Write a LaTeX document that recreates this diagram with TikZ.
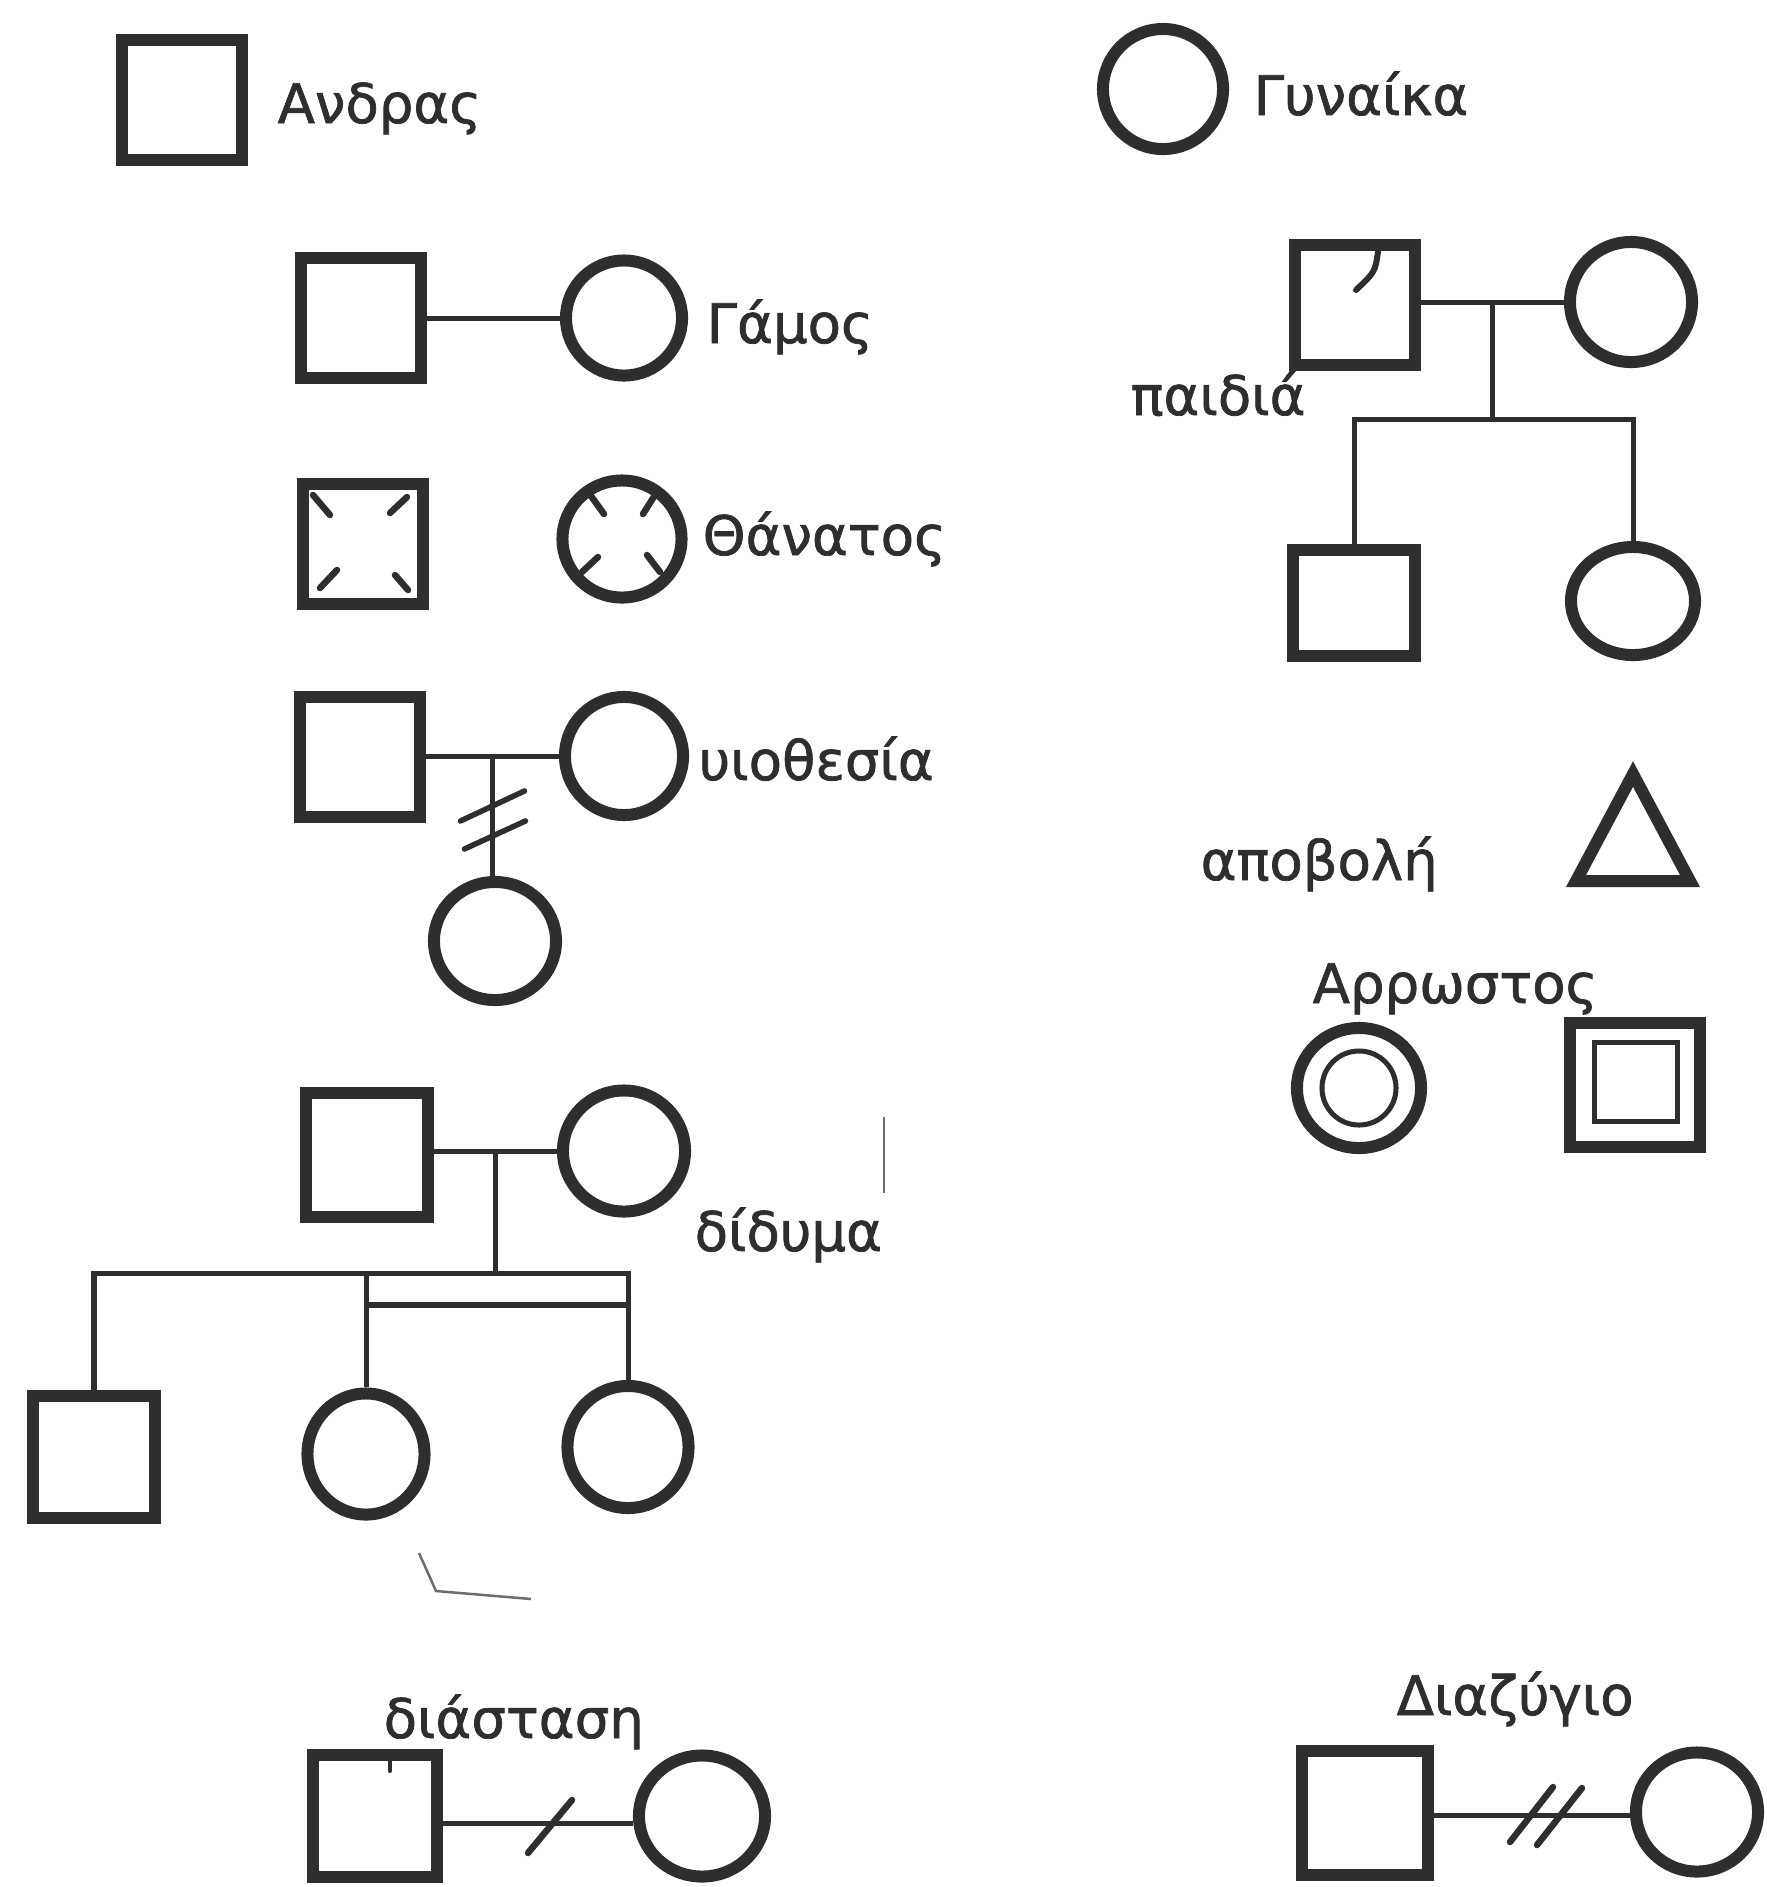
\documentclass[tikz,border=0pt]{standalone}
\usepackage{fontspec}
\setmainfont[FakeBold=1.3]{DejaVu Sans}
\usetikzlibrary{shapes.geometric,calc}
\definecolor{ink}{HTML}{2E2E2E}
\tikzset{
  male/.style={draw=ink, rectangle, line width=0.12cm, minimum width=1.2cm, minimum height=1.2cm, inner sep=0pt},
  female/.style={draw=ink, ellipse, line width=0.12cm, minimum width=1.2cm, minimum height=1.2cm, inner sep=0pt},
  innerring/.style={draw=ink, line width=0.05cm, inner sep=0pt},
  link/.style={draw=ink, line width=0.05cm},
  tick/.style={draw=ink, line width=0.065cm, line cap=round},
  faint/.style={draw=ink!70, line width=0.025cm},
  lbl/.style={anchor=base west, inner sep=0pt, text=ink, font=\fontsize{15.5pt}{18pt}\selectfont}
}
\begin{document}
\begin{tikzpicture}[x=0.01cm,y=-0.01cm]
\useasboundingbox[fill=white] (0,0) rectangle (1767,1887);

% legend: man and woman
\node[male] (man) at (182,100) {};
\node[lbl] (tman) at (277,123) {Ανδρας};
\node[female] (woman) at (1163,89) {};
\node[lbl] (twoman) at (1253,115) {Γυναίκα};

% marriage
\node[male] (m2) at (361,318) {};
\node[female, minimum width=1.16cm, minimum height=1.15cm] (f2) at (624,318) {};
\draw[link] (m2.east) -- (f2.west);
\node[lbl] (tmar) at (706,343) {Γάμος};

% death
\node[male] (m3) at (363,544) {};
\node[female, minimum width=1.19cm, minimum height=1.17cm] (f3) at (622,539) {};
\draw[tick] ($(m3)+(-50,-49)$) -- ($(m3)+(-33,-29)$);
\draw[tick] ($(m3)+(44,-47)$) -- ($(m3)+(27,-31)$);
\draw[tick] ($(m3)+(-26,26)$) -- ($(m3)+(-43,44)$);
\draw[tick] ($(m3)+(32,31)$) -- ($(m3)+(45,46)$);
\draw[tick] ($(f3)+(-31,-43)$) -- ($(f3)+(-18,-25)$);
\draw[tick] ($(f3)+(33,-44)$) -- ($(f3)+(21,-25)$);
\draw[tick] ($(f3)+(-24,18)$) -- ($(f3)+(-40,33)$);
\draw[tick] ($(f3)+(25,16)$) -- ($(f3)+(38,33)$);
\node[lbl] (tdeath) at (702,555) {Θάνατος};

% adoption
\node[male] (m4) at (360,757) {};
\node[female, minimum width=1.18cm, minimum height=1.18cm] (f4) at (624,756) {};
\node[female, minimum width=1.22cm, minimum height=1.18cm] (f5) at (495,941) {};
\draw[link] (m4.east |- f4) -- (f4.west);
\coordinate (a1) at ($(m4.east |- f4)!0.5!(f4.west)$);
\draw[link] (a1) -- (a1 |- f5.north);
\draw[tick, line width=0.055cm] ($(a1 |- f5.north)+(-32,-55)$) -- ($(a1 |- f5.north)+(32,-85)$);
\draw[tick, line width=0.055cm] ($(a1 |- f5.north)+(-28,-27)$) -- ($(a1 |- f5.north)+(33,-55)$);
\node[lbl] (tadopt) at (698,780) {υιοθεσία};

% children
\node[male] (m5) at (1355,305) {};
\node[female, minimum width=1.22cm, minimum height=1.2cm] (f6) at (1631,302) {};
\draw[link] (m5.east |- f6) -- (f6.west);
\draw[tick, line width=0.06cm] (1378,252) .. controls (1375,272) .. (1356,290);
\coordinate (c1) at ($(m5.east |- f6)!0.5!(f6.west)$);
\coordinate (s1) at (1498,419);
\node[male, minimum width=1.22cm, minimum height=1.06cm] (m6) at (1354,603) {};
\node[female, minimum width=1.24cm, minimum height=1.08cm] (f7) at (1633,601) {};
\draw[link] (c1) -- (c1 |- s1);
\draw[link] (m6.north) -- (m6.north |- s1) -- (f7.north |- s1) -- (f7.north);
\node[lbl] (tchild) at (1130,415) {παιδιά};

% miscarriage
\draw[draw=ink, line width=0.12cm, line join=miter] (1633,774) -- (1690,881) -- (1576,881) -- cycle;
\node[lbl] (tmisc) at (1200,880) {αποβολή};

% illness
\node[female, minimum width=1.24cm, minimum height=1.2cm] (f8) at (1359,1088) {};
\node[innerring, circle, minimum size=0.74cm] (f8in) at (f8) {};
\node[male, minimum width=1.29cm, minimum height=1.24cm] (m7) at (1635,1085) {};
\node[innerring, rectangle, minimum width=0.83cm, minimum height=0.79cm] (m7in) at (1636,1082) {};
\node[lbl] (till) at (1312,1003) {Αρρωστος};

% twins
\node[male, minimum width=1.21cm, minimum height=1.23cm] (m8) at (367,1155) {};
\node[female, minimum width=1.22cm, minimum height=1.21cm] (f9) at (624,1151) {};
\draw[link] (m8.east |- f9) -- (f9.west);
\coordinate (c2) at ($(m8.east |- f9)!0.5!(f9.west)$);
\coordinate (s2) at (493,1273);
\coordinate (tb) at (0,1305);
\node[male, minimum width=1.21cm, minimum height=1.22cm] (son) at (94,1457) {};
\node[female, minimum width=1.17cm, minimum height=1.21cm] (tw1) at (366,1454) {};
\node[female, minimum width=1.21cm, minimum height=1.22cm] (tw2) at (628,1447) {};
\draw[link] (c2) -- (c2 |- s2);
\draw[link] (son.north) -- (son.north |- s2) -- (tw2.north |- s2) -- (tw2.north);
\draw[link] (tw1.north |- s2) -- (tw1.north);
\draw[link, line width=0.06cm] (tw1.north |- tb) -- (tw2.north |- tb);
\node[lbl] (ttwin) at (694,1251) {δίδυμα};
\draw[faint] (884,1117) -- (884,1193);
\draw[faint] (419,1553) -- (436,1591) -- (531,1599);

% separation
\node[male, minimum width=1.24cm, minimum height=1.22cm] (m9) at (375,1816) {};
\node[female, minimum width=1.26cm, minimum height=1.21cm] (f10) at (702,1816) {};
\draw[link] (m9.east |- 0,1823) -- (f10.west |- 0,1823);
\draw[tick] (528,1853) -- (572,1800);
\draw[tick, line width=0.04cm] (390,1760) -- (390,1771);
\node[lbl] (tsep) at (383,1738) {διάσταση};

% divorce
\node[male, minimum width=1.25cm, minimum height=1.24cm] (m10) at (1365,1813) {};
\node[female, minimum width=1.22cm, minimum height=1.19cm] (f11) at (1697,1812) {};
\draw[link] (m10.east |- 0,1815) -- (f11.west |- 0,1815);
\draw[tick] (1510,1842) -- (1553,1787);
\draw[tick] (1537,1845) -- (1582,1788);
\node[lbl] (tdiv) at (1396,1715) {Διαζύγιο};
\end{tikzpicture}
\end{document}
